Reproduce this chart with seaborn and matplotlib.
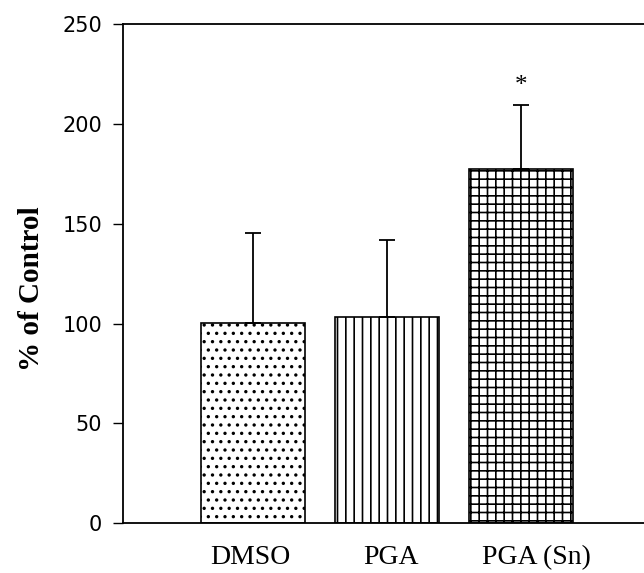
import matplotlib
matplotlib.use('Agg')
import matplotlib.pyplot as plt
import matplotlib.transforms as mtransforms
import pandas as pd
import seaborn as sns

# Data
groups = ['DMSO', 'PGA', 'PGA (Sn)']
means = [100.5, 103.5, 177.5]
err_up = [45, 38.5, 32]
hatches = ['..', '||', '++']
star_y = 219

df = pd.DataFrame({'group': groups, 'value': means})

sns.set_style('white')
plt.rcParams['hatch.linewidth'] = 1.2

fig = plt.figure(figsize=(6.44, 5.73), dpi=100)
ax = fig.add_axes([0.191, 0.087, 0.809, 0.871])

sns.barplot(data=df, x='group', y='value', color='white', edgecolor='black',
            linewidth=1.2, width=0.78, errorbar=None, ax=ax)
for patch, h in zip(ax.patches, hatches):
    patch.set_hatch(h)
    patch.set_facecolor('white')
    patch.set_edgecolor('black')

ax.errorbar(range(len(groups)), means, yerr=[[0] * len(groups), err_up],
            fmt='none', ecolor='black', elinewidth=1.3, capsize=5.5, capthick=1.3)
ax.text(2, star_y, '*', ha='center', va='center', fontsize=18,
        family='Liberation Serif', color='black')

ax.set_ylim(0, 250)
ax.set_xlim(-0.97, 2.92)
ax.set_yticks([0, 50, 100, 150, 200, 250])
ax.tick_params(axis='y', which='both', left=True, length=7, width=1,
               direction='out', labelsize=15, pad=8, color='black',
               labelcolor='black')
ax.tick_params(axis='x', bottom=False, pad=12, labelcolor='black')
shifts = [-3, 4, 16]
for lab, dx in zip(ax.get_xticklabels(), shifts):
    lab.set_family('Liberation Serif')
    lab.set_fontsize(20)
    lab.set_transform(lab.get_transform() + mtransforms.ScaledTranslation(
        dx / 100, 0, fig.dpi_scale_trans))

ax.set_xlabel('')
ax.set_ylabel('% of Control', fontsize=21, fontweight='bold',
              family='Liberation Serif', labelpad=12, color='black')
ax.yaxis.set_label_coords(-0.15, 0.47)

for side in ['left', 'bottom', 'top']:
    ax.spines[side].set_visible(True)
    ax.spines[side].set_color('black')
    ax.spines[side].set_linewidth(1.3)
ax.spines['right'].set_visible(False)

fig.savefig('out.png', dpi=100)
